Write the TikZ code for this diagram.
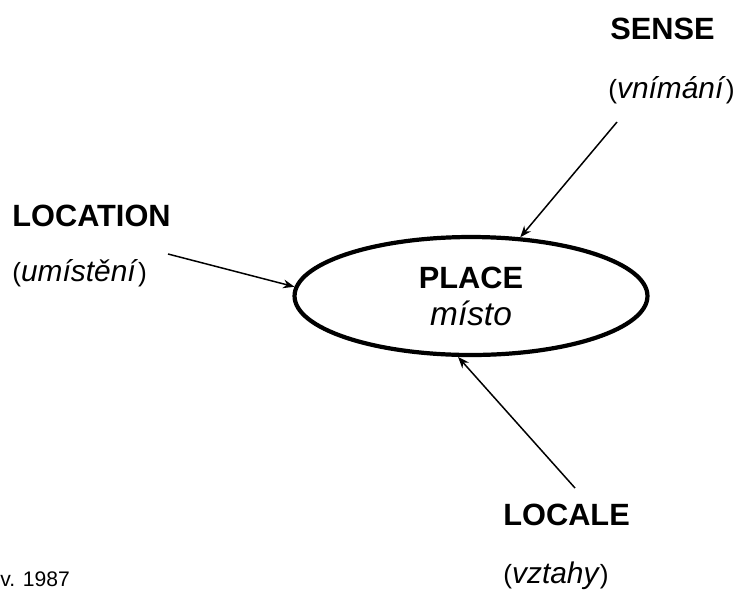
\documentclass[tikz,border=0pt]{standalone}
\usepackage{fontspec}
\setmainfont{Liberation Sans}
\usetikzlibrary{arrows.meta,shapes.geometric}

\newcommand{\gloss}[1]{{\fontsize{15}{18}\selectfont(}\textit{#1}{\fontsize{15}{18}\selectfont)}}

\begin{document}
\begin{tikzpicture}[x=0.02cm,y=-0.02cm,>={Stealth[length=6.5pt,width=5pt]},
  label/.style={anchor=base west,inner sep=0pt,font=\fontsize{17.5}{20}\selectfont\bfseries},
  gloss/.style={anchor=base west,inner sep=0pt,font=\fontsize{17}{20}\selectfont},
  link/.style={->,line width=0.85pt}]
\useasboundingbox (0,0) rectangle (736,589);

\node[ellipse,draw,line width=2.4pt,inner sep=0pt,minimum width=7.06cm,minimum height=2.36cm,
  align=center,font=\fontsize{17.5}{21}\selectfont] (place) at (471,296)
  {\textbf{PLACE}\\{\fontsize{19}{21}\selectfont\itshape místo}};

\node[label] (sense)    at (610,39)  {SENSE};
\node[gloss] (vnimani)  at (608,98)  {\gloss{vnímání}};
\node[label] (location) at (12,226)  {LOCATION};
\node[gloss] (umisteni) at (12,281)  {\gloss{umístění}};
\node[label] (locale)   at (503,525) {LOCALE};
\node[gloss] (vztahy)   at (503,583) {\gloss{vztahy}};
\node[anchor=base west,inner sep=0pt,font=\fontsize{12}{14}\selectfont] (source) at (0,586) {v. 1987};

\coordinate (sense tail)    at (617,122);
\coordinate (location tail) at (168,254);
\coordinate (locale tail)   at (575,488);

\draw[link] (sense tail)    -- (place.50);
\draw[link] (location tail) -- (place.177);
\draw[link] (locale tail)   -- (place.258);
\end{tikzpicture}
\end{document}
